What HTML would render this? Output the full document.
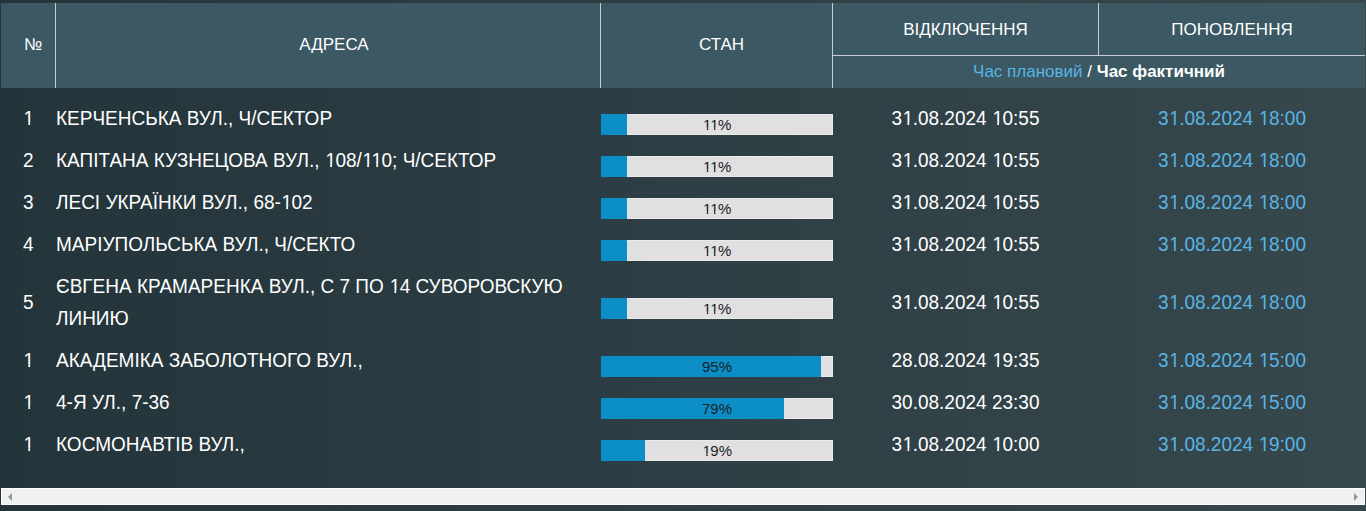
<!DOCTYPE html>
<html><head><meta charset="utf-8">
<style>
html,body{margin:0;padding:0;}
body{width:1366px;height:511px;overflow:hidden;position:relative;background:linear-gradient(to right,#23343b 0%,#37484d 100%);font-family:"Liberation Sans",sans-serif;color:#fff;}
.hdr{position:absolute;left:1px;top:3px;width:1364px;height:85px;background:#3b5863;}
.vl{position:absolute;width:1px;background:#c6ced2;}
.hl{position:absolute;height:1px;background:#c6ced2;}
.ht{position:absolute;font-size:17px;line-height:20px;white-space:nowrap;color:#fff;}
.t19{position:absolute;font-size:19px;line-height:32px;white-space:nowrap;transform:scaleY(1.07);transform-origin:0 22px;}
.num{left:23px;}
.addr{left:56px;}
.bar{position:absolute;left:601px;width:232px;height:21px;background:#dfe0df;box-shadow:inset 0 1px 0 #e9eae9,inset 0 -1px 0 #e9eae9,inset -1px 0 0 #e9eae9;}
.bar .f{position:absolute;left:0;top:0;bottom:0;background:#0b8dc6;}
.bar .t{position:absolute;left:0;right:0;top:1px;text-align:center;font-size:15px;line-height:20px;color:#1c2127;transform:scaleY(1.0);transform-origin:0 15px;}
.d1{left:833px;width:265px;text-align:center;color:#fff;}
.d2{left:1099px;width:266px;text-align:center;color:#5ab4e3;}
.o{position:relative;left:0.6px;clip-path:polygon(0 0,100% 0,100% calc(0.905em - 2.6px),0.345em calc(0.905em - 2.6px),0.345em 100%,0.25em 100%,0.25em calc(0.905em - 2.6px),0 calc(0.905em - 2.6px));}
.op{position:relative;left:0.5px;clip-path:polygon(0 0,100% 0,100% calc(0.905em - 2.2px),0.345em calc(0.905em - 2.2px),0.345em 100%,0.25em 100%,0.25em calc(0.905em - 2.2px),0 calc(0.905em - 2.2px));}
.sb{position:absolute;left:1px;top:488px;width:1362px;height:15px;border:1px solid #fff;background:#f0f0f0;}
.al{position:absolute;left:8px;top:493px;width:0;height:0;border-top:4px solid transparent;border-bottom:4px solid transparent;border-right:4px solid #8e9aa2;}
.ar{position:absolute;left:1354px;top:493px;width:0;height:0;border-top:4px solid transparent;border-bottom:4px solid transparent;border-left:4px solid #8e9aa2;}
</style></head><body>
<div class="hdr"></div>
<div class="vl" style="left:55px;top:3px;height:85px"></div>
<div class="vl" style="left:600px;top:3px;height:85px"></div>
<div class="vl" style="left:832px;top:3px;height:85px"></div>
<div class="vl" style="left:1098px;top:3px;height:52px"></div>
<div class="hl" style="left:833px;top:55px;width:532px"></div>
<div class="ht" style="left:24px;top:35px">№</div>
<div class="ht" style="left:62px;width:544px;text-align:center;top:35px">АДРЕСА</div>
<div class="ht" style="left:606px;width:231px;text-align:center;top:35px">СТАН</div>
<div class="ht" style="left:833px;width:265px;text-align:center;top:20px">ВІДКЛЮЧЕННЯ</div>
<div class="ht" style="left:1099px;width:266px;text-align:center;top:20px">ПОНОВЛЕННЯ</div>
<div class="ht" style="left:833px;width:532px;text-align:center;top:62px"><span style="color:#5ab4e3">Час плановий</span> / <b>Час фактичний</b></div>
<div class="t19 num" style="top:103px"><span class="o">1</span></div>
<div class="t19 addr" style="top:103px">КЕРЧЕНСЬКА ВУЛ., Ч/СЕКТОР</div>
<div class="bar" style="top:114px"><div class="f" style="width:26px"></div><div class="t"><span class="op">1</span><span class="op">1</span>%</div></div>
<div class="t19 d1" style="top:103px">3<span class="o">1</span>.08.2024 <span class="o">1</span>0:55</div>
<div class="t19 d2" style="top:103px">3<span class="o">1</span>.08.2024 <span class="o">1</span>8:00</div>
<div class="t19 num" style="top:145px">2</div>
<div class="t19 addr" style="top:145px">КАПІТАНА КУЗНЕЦОВА ВУЛ., <span class="o">1</span>08/<span class="o">1</span><span class="o">1</span>0; Ч/СЕКТОР</div>
<div class="bar" style="top:156px"><div class="f" style="width:26px"></div><div class="t"><span class="op">1</span><span class="op">1</span>%</div></div>
<div class="t19 d1" style="top:145px">3<span class="o">1</span>.08.2024 <span class="o">1</span>0:55</div>
<div class="t19 d2" style="top:145px">3<span class="o">1</span>.08.2024 <span class="o">1</span>8:00</div>
<div class="t19 num" style="top:187px">3</div>
<div class="t19 addr" style="top:187px">ЛЕСІ УКРАЇНКИ ВУЛ., 68-<span class="o">1</span>02</div>
<div class="bar" style="top:198px"><div class="f" style="width:26px"></div><div class="t"><span class="op">1</span><span class="op">1</span>%</div></div>
<div class="t19 d1" style="top:187px">3<span class="o">1</span>.08.2024 <span class="o">1</span>0:55</div>
<div class="t19 d2" style="top:187px">3<span class="o">1</span>.08.2024 <span class="o">1</span>8:00</div>
<div class="t19 num" style="top:229px">4</div>
<div class="t19 addr" style="top:229px">МАРІУПОЛЬСЬКА ВУЛ., Ч/СЕКТО</div>
<div class="bar" style="top:240px"><div class="f" style="width:26px"></div><div class="t"><span class="op">1</span><span class="op">1</span>%</div></div>
<div class="t19 d1" style="top:229px">3<span class="o">1</span>.08.2024 <span class="o">1</span>0:55</div>
<div class="t19 d2" style="top:229px">3<span class="o">1</span>.08.2024 <span class="o">1</span>8:00</div>
<div class="t19 num" style="top:287px">5</div>
<div class="t19 addr" style="top:271px">ЄВГЕНА КРАМАРЕНКА ВУЛ., С 7 ПО <span class="o">1</span>4 СУВОРОВСКУЮ</div>
<div class="t19 addr" style="top:303px">ЛИНИЮ</div>
<div class="bar" style="top:298px"><div class="f" style="width:26px"></div><div class="t"><span class="op">1</span><span class="op">1</span>%</div></div>
<div class="t19 d1" style="top:287px">3<span class="o">1</span>.08.2024 <span class="o">1</span>0:55</div>
<div class="t19 d2" style="top:287px">3<span class="o">1</span>.08.2024 <span class="o">1</span>8:00</div>
<div class="t19 num" style="top:345px"><span class="o">1</span></div>
<div class="t19 addr" style="top:345px">АКАДЕМІКА ЗАБОЛОТНОГО ВУЛ.,</div>
<div class="bar" style="top:356px"><div class="f" style="width:220px"></div><div class="t">95%</div></div>
<div class="t19 d1" style="top:345px">28.08.2024 <span class="o">1</span>9:35</div>
<div class="t19 d2" style="top:345px">3<span class="o">1</span>.08.2024 <span class="o">1</span>5:00</div>
<div class="t19 num" style="top:387px"><span class="o">1</span></div>
<div class="t19 addr" style="top:387px">4-Я УЛ., 7-36</div>
<div class="bar" style="top:398px"><div class="f" style="width:183px"></div><div class="t">79%</div></div>
<div class="t19 d1" style="top:387px">30.08.2024 23:30</div>
<div class="t19 d2" style="top:387px">3<span class="o">1</span>.08.2024 <span class="o">1</span>5:00</div>
<div class="t19 num" style="top:429px"><span class="o">1</span></div>
<div class="t19 addr" style="top:429px">КОСМОНАВТІВ ВУЛ.,</div>
<div class="bar" style="top:440px"><div class="f" style="width:44px"></div><div class="t"><span class="op">1</span>9%</div></div>
<div class="t19 d1" style="top:429px">3<span class="o">1</span>.08.2024 <span class="o">1</span>0:00</div>
<div class="t19 d2" style="top:429px">3<span class="o">1</span>.08.2024 <span class="o">1</span>9:00</div>
<div class="sb"></div>
<div class="al"></div>
<div class="ar"></div>
</body></html>
